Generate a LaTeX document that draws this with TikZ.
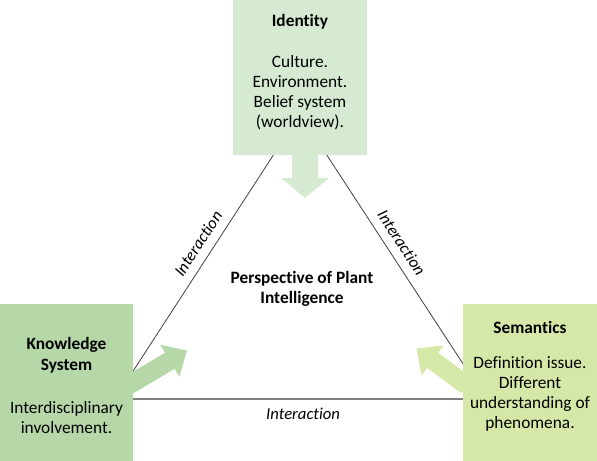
\documentclass[tikz,border=0pt]{standalone}
\usepackage{fontspec}
\setmainfont{Carlito}[Ligatures=NoCommon]
\usetikzlibrary{arrows.meta,positioning}
\definecolor{idgreen}{RGB}{214,234,210}
\definecolor{ksgreen}{RGB}{182,215,168}
\definecolor{semgreen}{RGB}{213,232,167}
\tikzset{
  panel/.style={fill=#1, inner sep=0pt, minimum width=100.5pt, minimum height=117.75pt},
  paneltext/.style={align=center, inner sep=0pt, font=\fontsize{13}{15}\selectfont},
  sideline/.style={draw=black!75, line width=0.6pt},
  bottomline/.style={draw=black!50, line width=1.1pt},
  interlabel/.style={font=\fontsize{12.5}{14}\selectfont\itshape, inner ysep=6.5pt},
  flow/.style={draw=#1, line width=14pt, -{Triangle[length=15pt,width=27pt]}, shorten <=-4pt}
}
\begin{document}
\begin{tikzpicture}[x=0.75pt,y=-0.75pt]
\useasboundingbox (0,0) rectangle (597,461);
% triangle of interactions
\coordinate (top) at (300,114);
\coordinate (left) at (115,399);
\coordinate (right) at (486,399);
\draw[sideline] (left) -- node[pos=0.517, above, sloped, interlabel] (intleft) {Interaction} (top);
\draw[sideline] (top) -- node[pos=0.48, above, sloped, interlabel] (intright) {Interaction} (right);
\draw[bottomline] (left) -- node[pos=0.507, below, interlabel] (intbottom) {Interaction} (right);
% the three panels
\node[panel=idgreen, minimum height=116.25pt] (identity) at (300,77.5) {};
\node[panel=ksgreen, minimum width=99.75pt] (knowledge) at (66.5,382.5) {};
\node[panel=semgreen] (semantics) at (530,382.5) {};
% arrows into the middle
\coordinate (idtip) at (305,198);
\coordinate (kstip) at (187,350.5);
\coordinate (semtip) at (416.5,348.5);
\draw[flow=idgreen, line width=19pt, -{Triangle[length=15pt,width=35pt]}] (identity.south -| idtip) -- (idtip);
\draw[flow=ksgreen] (knowledge.east) -- (kstip);
\draw[flow=semgreen] (semantics.west) -- (semtip);
% texts
\node[paneltext, below=11pt of identity.north] (idtext)
  {\textbf{Identity}\\[15.5pt]Culture.\\Environment.\\Belief system\\(worldview).};
\node[paneltext, below=25pt of knowledge.north] (kstext)
  {\textbf{Knowledge}\\[1pt]\textbf{System}\\[17pt]Interdisciplinary\\involvement.};
\node[paneltext, below=13pt of semantics.north] (semtext)
  {\textbf{Semantics}\\[11pt]Definition issue.\\Different\\understanding of\\phenomena.};
\node[paneltext, font=\fontsize{13}{15}\selectfont\bfseries] (centre) at (302,289)
  {Perspective of Plant\\Intelligence};
\end{tikzpicture}
\end{document}
